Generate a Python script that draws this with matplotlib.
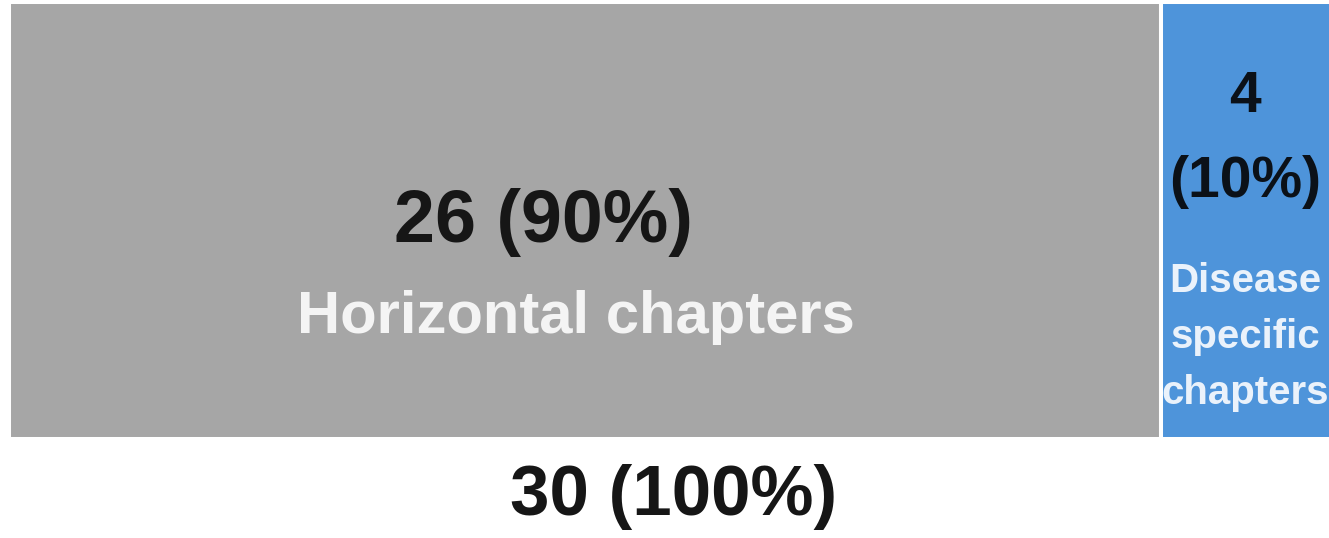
import matplotlib.pyplot as plt

# chapter counts
labels = ['Horizontal chapters', 'Disease\nspecific\nchapters']
counts = [26, 4]
shares = ['90%', '10%']
total = 30
total_share = '100%'

colors = ['#a6a6a6', '#4e94da']
dark = '#161616'

plt.rcParams['font.family'] = ['Liberation Sans', 'DejaVu Sans']

fig = plt.figure(figsize=(13.29, 5.38), dpi=100)
ax = fig.add_axes([9 / 1329, 99 / 538, 1320 / 1329, 437 / 538])

left = 0
for i in range(len(counts)):
	ax.barh(0.5, counts[i], height=1, left=left, color=colors[i],
		edgecolor='white', linewidth=2.9)
	left += counts[i]

# gray block labels
ax.text(counts[0] / 2 - 0.95, 0.451, '%d (%s)' % (counts[0], shares[0]),
	ha='center', va='baseline', fontsize=53, fontweight='bold', color=dark)
ax.text(counts[0] / 2 - 0.2, 0.243, labels[0],
	ha='center', va='baseline', fontsize=43, fontweight='bold', color='#f4f4f4')

# blue block labels
xb = counts[0] + counts[1] / 2 - 0.1
ax.text(xb, 0.748, '%d' % counts[1], ha='center', va='baseline',
	fontsize=41, fontweight='bold', color='#0b1118')
ax.text(xb, 0.554, '(%s)' % shares[1], ha='center', va='baseline',
	fontsize=41, fontweight='bold', color='#0b1118')
ys = [0.336, 0.208, 0.080]
for line, y in zip(labels[1].split('\n'), ys):
	ax.text(xb, y, line, ha='center', va='baseline', fontsize=29,
		fontweight='bold', color='#eaf2fb')

# total below
ax.text(total / 2, -0.174, '%d (%s)' % (total, total_share), ha='center',
	va='baseline', fontsize=51, fontweight='bold', color=dark, clip_on=False)

ax.set_xlim(0, 29.79)
ax.set_ylim(0, 1)
ax.axis('off')

fig.savefig('out.png', dpi=100)
